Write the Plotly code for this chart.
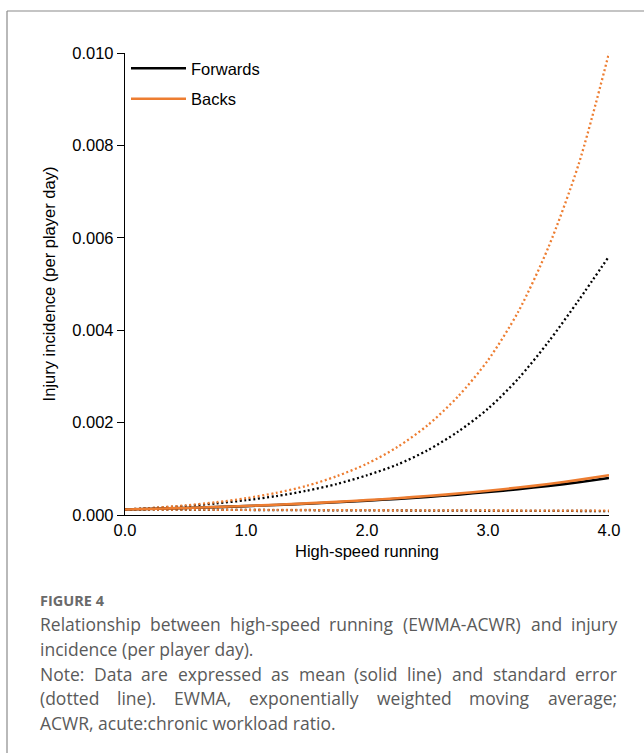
import plotly.graph_objects as go

# ---------------- data ----------------
x_vals = [0.0, 0.25, 0.5, 0.75, 1.0, 1.25, 1.5, 1.75, 2.0,
          2.25, 2.5, 2.75, 3.0, 3.25, 3.5, 3.75, 4.0]

fwd_mean = [0.000120, 0.000135, 0.000152, 0.000171, 0.000193, 0.000217,
            0.000244, 0.000275, 0.000310, 0.000349, 0.000393, 0.000442,
            0.000498, 0.000560, 0.000630, 0.000710, 0.000800]
fwd_upper = [0.000120, 0.000153, 0.000195, 0.000250, 0.000320, 0.000410,
             0.000525, 0.000670, 0.000860, 0.001090, 0.001400, 0.001800,
             0.002300, 0.002950, 0.003750, 0.004650, 0.005600]
fwd_lower = [0.000120, 0.000117, 0.000114, 0.000112, 0.000109, 0.000107,
             0.000104, 0.000102, 0.000100, 0.000098, 0.000096, 0.000094,
             0.000092, 0.000090, 0.000088, 0.000087, 0.000085]

backs_mean = [0.000120, 0.000136, 0.000153, 0.000174, 0.000196, 0.000222,
              0.000251, 0.000284, 0.000321, 0.000363, 0.000410, 0.000464,
              0.000525, 0.000594, 0.000670, 0.000760, 0.000860]
backs_upper = [0.000120, 0.000158, 0.000208, 0.000275, 0.000363, 0.000480,
               0.000630, 0.000840, 0.001110, 0.001470, 0.001940, 0.002560,
               0.003350, 0.004400, 0.005800, 0.007600, 0.010000]
backs_lower = [0.000120, 0.000118, 0.000116, 0.000114, 0.000112, 0.000110,
               0.000108, 0.000106, 0.000104, 0.000102, 0.000100, 0.000099,
               0.000098, 0.000097, 0.000096, 0.000095, 0.000094]

x_ticks = [0, 1, 2, 3, 4]
x_ticktext = ["0.0", "1.0", "2.0", "3.0", "4.0"]
y_ticks = [0, 0.002, 0.004, 0.006, 0.008, 0.010]
y_ticktext = ["0.000", "0.002", "0.004", "0.006", "0.008", "0.010"]

caption_label = "FIGURE 4"
caption_lines = [
    ("Relationship between high-speed running (EWMA-ACWR) and injury", True),
    ("incidence (per player day).", False),
    ("Note: Data are expressed as mean (solid line) and standard error", True),
    ("(dotted line). EWMA, exponentially weighted moving average;", True),
    ("ACWR, acute:chronic workload ratio.", False),
]

# ---------------- layout geometry ----------------
W, H = 644, 753
L, R, T, B = 125, 35, 53, 238
PW = W - L - R
PH = H - T - B


def px(x):
    return (x - L) / PW


def py(y):
    return (H - B - y) / PH


BLACK = "#000000"
ORANGE = "#ED7D31"
DOT = "2px,2.6px"
CHART_FONT = "Liberation Sans, Arial, sans-serif"
CAP_FONT = "Open Sans, sans-serif"

fig = go.Figure()


def add_line(y, color, dash=None, name=None, group=None, width=2.3):
    fig.add_trace(go.Scatter(
        x=x_vals, y=y, mode="lines", name=name, legendgroup=group,
        showlegend=name is not None,
        line=dict(color=color, width=width, dash=dash, shape="spline", smoothing=0.8)))


add_line(fwd_upper, BLACK, DOT)
add_line(backs_upper, ORANGE, DOT)
add_line(fwd_lower, BLACK, DOT)
add_line(backs_lower, ORANGE, DOT)
add_line(fwd_mean, BLACK, name="Forwards", group="f", width=2.6)
add_line(backs_mean, ORANGE, name="Backs", group="b", width=2.6)

fig.update_layout(
    width=W, height=H,
    margin=dict(l=L, r=R, t=T, b=B, pad=0),
    paper_bgcolor="white", plot_bgcolor="white",
    font=dict(family=CHART_FONT, size=16.5, color="black"),
    showlegend=True,
    legend=dict(x=px(126), y=py(51), xanchor="left", yanchor="top",
                bgcolor="rgba(0,0,0,0)", itemwidth=55, traceorder="grouped",
                tracegroupgap=6, font=dict(family=CHART_FONT, size=16.5, color="black")),
    xaxis=dict(range=[0, 4], showgrid=False, zeroline=False, showline=True,
               linecolor=BLACK, linewidth=1.3, ticks="", tickvals=x_ticks,
               ticktext=x_ticktext, tickfont=dict(size=16.5),
               title=dict(text="High-speed running", font=dict(size=16.5), standoff=7)),
    yaxis=dict(range=[0, 0.010], showgrid=False, zeroline=False, showline=True,
               linecolor=BLACK, linewidth=1.3, ticks="outside", ticklen=7,
               tickwidth=1.3, tickcolor=BLACK, tickvals=y_ticks, ticktext=y_ticktext,
               tickfont=dict(size=16.5),
               title=dict(text="Injury incidence (per player day)", font=dict(size=16.5),
                          standoff=12)),
)

# frame border around the figure panel
fig.add_shape(type="line", xref="paper", yref="paper", x0=px(7), x1=px(660),
              y0=py(11), y1=py(11), line=dict(color="#8a8a8a", width=1.2))
fig.add_shape(type="line", xref="paper", yref="paper", x0=px(7), x1=px(7),
              y0=py(11), y1=py(770), line=dict(color="#8a8a8a", width=1.2))

# ---------------- caption (justified like the journal layout) ----------------
CAP_COLOR = "#5a5a5a"
CAP_SIZE = 17.5
CAP_LEFT, CAP_RIGHT = 40, 617
CAP_Y0, CAP_DY = 624, 24.8

# approximate Open Sans advance widths (em) used to justify lines
EM = {"a": .556, "b": .613, "c": .480, "d": .613, "e": .561, "f": .336, "g": .548,
      "h": .614, "i": .252, "j": .252, "k": .529, "l": .252, "m": .931, "n": .614,
      "o": .602, "p": .613, "q": .613, "r": .409, "s": .477, "t": .352, "u": .614,
      "v": .500, "w": .778, "x": .524, "y": .500, "z": .470,
      "A": .633, "C": .631, "D": .718, "E": .556, "M": .907, "N": .754, "R": .625,
      "W": .940, "(": .297, ")": .297, "-": .322, ",": .245, ".": .266, ":": .266,
      ";": .266, " ": .260}


def word_w(w, size):
    return sum(EM.get(ch, .56) for ch in w) * size


def cap(text, x, y, size=CAP_SIZE, color=CAP_COLOR, anchor="left"):
    fig.add_annotation(text=text, xref="paper", yref="paper",
                       x=px(x), y=py(y), xanchor=anchor, yanchor="middle",
                       showarrow=False, font=dict(family=CAP_FONT, size=size, color=color))


fig.add_annotation(text=f"<b>{caption_label}</b>", xref="paper", yref="paper",
                   x=px(CAP_LEFT - 2), y=py(600), xanchor="left", yanchor="middle",
                   showarrow=False, font=dict(family=CAP_FONT, size=14.5, color="#6a6a6a"))

for i, (line, justify) in enumerate(caption_lines):
    y = CAP_Y0 + i * CAP_DY
    if not justify:
        cap(line, CAP_LEFT - 2, y)
        continue
    words = line.split(" ")
    widths = [word_w(w, CAP_SIZE) for w in words]
    gap = (CAP_RIGHT - CAP_LEFT - sum(widths)) / (len(words) - 1)
    xpos = CAP_LEFT
    for j, (w, wd) in enumerate(zip(words, widths)):
        if j == len(words) - 1:
            cap(w, CAP_RIGHT + 2, y, anchor="right")
        else:
            cap(w, xpos + wd / 2, y, anchor="center")
        xpos += wd + gap

fig.write_html("out.html")
